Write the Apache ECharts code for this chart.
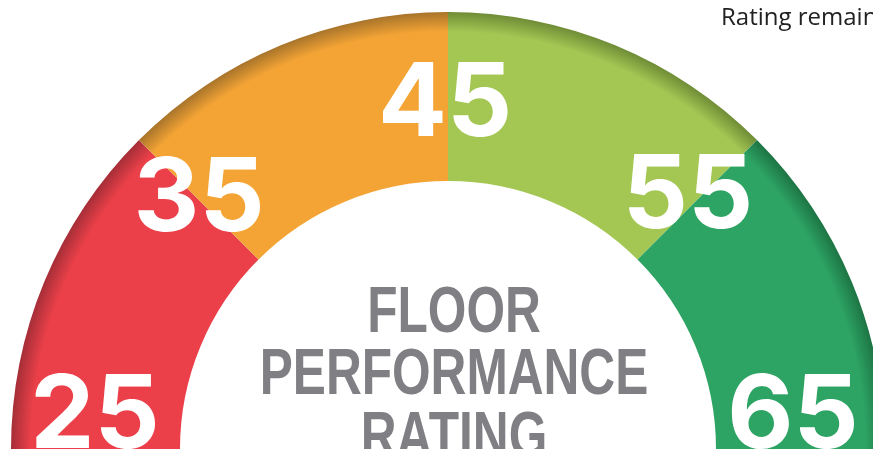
<!DOCTYPE html>
<html>
<head>
<meta charset="utf-8">
<script src="https://cdn.jsdelivr.net/npm/echarts@6/dist/echarts.min.js"></script>
<style>
  html, body { margin: 0; padding: 0; background: #fff; }
  #chart { width: 873px; height: 449px; }
</style>
</head>
<body>
<div id="chart"></div>
<script>
// gauge scale: band boundaries and tick labels
const ticks = [25, 35, 45, 55, 65];
const bandColors = ['#EB4049', '#F4A435', '#A4C653', '#2DA463'];
const bandShades = ['#A52E37', '#A8742A', '#6F8C36', '#1D7444'];
const centerLines = ['FLOOR', 'PERFORMANCE', 'RATING'];
const noteText = 'Rating remain';

const CX = 448, CY = 449;
const R_OUT = 437, R_IN = 268;
const LABEL_R = 352;
// nudges for each tick label (the end ones are lifted off the baseline)
const labelNudge = [[-1, -32], [0, 0], [-3, 8], [-9, -3], [-7, -32]];

const chart = echarts.init(document.getElementById('chart'));

const bandData = ticks.slice(1).map((t, i) => ({
  name: ticks[i] + '-' + t,
  value: t - ticks[i],
  itemStyle: {
    color: {
      type: 'radial', x: CX, y: CY, r: R_OUT, global: true,
      colorStops: [
        { offset: 0, color: bandColors[i] },
        { offset: 0.955, color: bandColors[i] },
        { offset: 1, color: bandShades[i] }
      ]
    }
  }
}));

const lastIdx = ticks.length - 1;
const labelData = ticks.map((t, i) => ({
  value: [LABEL_R, t],
  label: { offset: labelNudge[i] }
}));

const option = {
  animation: false,
  polar: { center: [CX, CY], radius: R_OUT },
  angleAxis: {
    type: 'value',
    min: ticks[0],
    max: ticks[0] + (ticks[lastIdx] - ticks[0]) * 2,
    startAngle: 180,
    clockwise: true,
    show: false
  },
  radiusAxis: { type: 'value', min: 0, max: R_OUT, show: false },
  series: [
    {
      type: 'pie',
      center: [CX, CY],
      radius: [R_IN, R_OUT],
      startAngle: 180,
      endAngle: 0,
      clockwise: true,
      silent: true,
      label: { show: false },
      labelLine: { show: false },
      itemStyle: { borderWidth: 0 },
      data: bandData
    },
    {
      type: 'scatter',
      coordinateSystem: 'polar',
      symbolSize: 0,
      silent: true,
      z: 5,
      itemStyle: { opacity: 1 },
      label: {
        show: true,
        position: 'inside',
        formatter: p => String(p.value[1]),
        color: '#fff',
        opacity: 1,
        fontFamily: 'Inter',
        fontWeight: 700,
        fontSize: 102
      },
      data: labelData
    }
  ],
  graphic: [
    {
      type: 'text',
      x: 454,
      y: 283,
      scaleX: 0.775,
      style: {
        text: centerLines.join('\n'),
        fill: '#808084',
        font: 'bold 64px "Liberation Sans"',
        lineHeight: 62.5,
        textAlign: 'center',
        textVerticalAlign: 'top'
      }
    },
    {
      type: 'text',
      x: 721,
      y: 18,
      style: {
        text: noteText,
        fill: '#222',
        font: '24px "Open Sans"',
        textAlign: 'left',
        textVerticalAlign: 'middle'
      }
    }
  ]
};

chart.setOption(option);
</script>
</body>
</html>
